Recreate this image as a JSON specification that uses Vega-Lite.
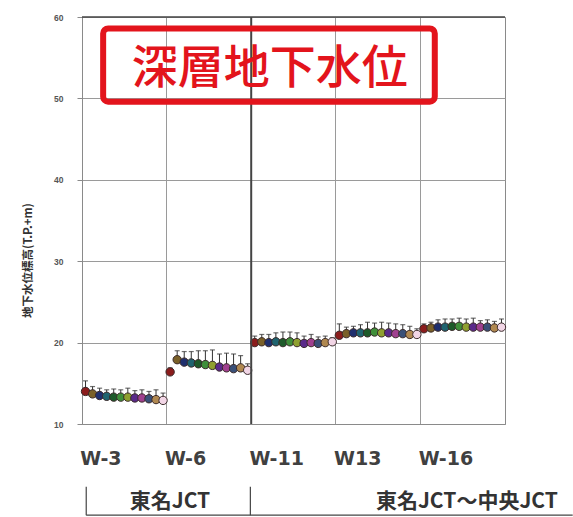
{
  "$schema": "https://vega.github.io/schema/vega-lite/v6.json",
  "width": 423,
  "height": 407,
  "autosize": {"type": "none"},
  "padding": {"left": 82, "top": 17, "right": 68, "bottom": 93},
  "background": "white",
  "config": {"view": {"stroke": "#8a8a8a", "strokeWidth": 1}},
  "datasets": {
    "obs": [
      {"well": "W-3", "m": 1, "v": 14.0, "hi": 15.3},
      {"well": "W-3", "m": 2, "v": 13.7, "hi": 14.6},
      {"well": "W-3", "m": 3, "v": 13.5, "hi": 14.4},
      {"well": "W-3", "m": 4, "v": 13.4, "hi": 14.2},
      {"well": "W-3", "m": 5, "v": 13.3, "hi": 14.3},
      {"well": "W-3", "m": 6, "v": 13.3, "hi": 14.2},
      {"well": "W-3", "m": 7, "v": 13.3, "hi": 14.4},
      {"well": "W-3", "m": 8, "v": 13.2, "hi": 14.1},
      {"well": "W-3", "m": 9, "v": 13.2, "hi": 14.2},
      {"well": "W-3", "m": 10, "v": 13.1, "hi": 14.0},
      {"well": "W-3", "m": 11, "v": 13.0, "hi": 14.2},
      {"well": "W-3", "m": 12, "v": 12.9, "hi": 13.8},
      {"well": "W-6", "m": 1, "v": 16.4, "hi": 16.9},
      {"well": "W-6", "m": 2, "v": 17.9, "hi": 19.0},
      {"well": "W-6", "m": 3, "v": 17.6, "hi": 18.9},
      {"well": "W-6", "m": 4, "v": 17.5, "hi": 18.9},
      {"well": "W-6", "m": 5, "v": 17.4, "hi": 19.0},
      {"well": "W-6", "m": 6, "v": 17.3, "hi": 19.0},
      {"well": "W-6", "m": 7, "v": 17.2, "hi": 19.1},
      {"well": "W-6", "m": 8, "v": 17.0, "hi": 18.6},
      {"well": "W-6", "m": 9, "v": 16.9, "hi": 18.7},
      {"well": "W-6", "m": 10, "v": 16.8, "hi": 18.6},
      {"well": "W-6", "m": 11, "v": 16.9, "hi": 18.4},
      {"well": "W-6", "m": 12, "v": 16.6, "hi": 17.4},
      {"well": "W-11", "m": 1, "v": 20.0, "hi": 20.8},
      {"well": "W-11", "m": 2, "v": 20.1, "hi": 21.0},
      {"well": "W-11", "m": 3, "v": 20.0, "hi": 21.0},
      {"well": "W-11", "m": 4, "v": 20.1, "hi": 21.2},
      {"well": "W-11", "m": 5, "v": 20.0, "hi": 21.3},
      {"well": "W-11", "m": 6, "v": 20.1, "hi": 21.3},
      {"well": "W-11", "m": 7, "v": 20.0, "hi": 21.2},
      {"well": "W-11", "m": 8, "v": 19.9, "hi": 20.8},
      {"well": "W-11", "m": 9, "v": 20.0, "hi": 21.0},
      {"well": "W-11", "m": 10, "v": 19.9, "hi": 20.7},
      {"well": "W-11", "m": 11, "v": 20.0, "hi": 20.8},
      {"well": "W-11", "m": 12, "v": 20.1, "hi": 20.6},
      {"well": "W13", "m": 1, "v": 20.9, "hi": 22.3},
      {"well": "W13", "m": 2, "v": 21.1, "hi": 21.9},
      {"well": "W13", "m": 3, "v": 21.2, "hi": 22.0},
      {"well": "W13", "m": 4, "v": 21.2, "hi": 22.2},
      {"well": "W13", "m": 5, "v": 21.2, "hi": 22.5},
      {"well": "W13", "m": 6, "v": 21.3, "hi": 22.4},
      {"well": "W13", "m": 7, "v": 21.2, "hi": 22.5},
      {"well": "W13", "m": 8, "v": 21.2, "hi": 22.4},
      {"well": "W13", "m": 9, "v": 21.1, "hi": 22.3},
      {"well": "W13", "m": 10, "v": 21.1, "hi": 22.2},
      {"well": "W13", "m": 11, "v": 21.0, "hi": 22.0},
      {"well": "W13", "m": 12, "v": 21.0, "hi": 21.7},
      {"well": "W-16", "m": 1, "v": 21.7, "hi": 22.3},
      {"well": "W-16", "m": 2, "v": 21.8, "hi": 22.5},
      {"well": "W-16", "m": 3, "v": 21.9, "hi": 22.8},
      {"well": "W-16", "m": 4, "v": 21.9, "hi": 22.9},
      {"well": "W-16", "m": 5, "v": 22.0, "hi": 22.9},
      {"well": "W-16", "m": 6, "v": 22.0, "hi": 23.0},
      {"well": "W-16", "m": 7, "v": 21.9, "hi": 22.9},
      {"well": "W-16", "m": 8, "v": 21.9, "hi": 23.0},
      {"well": "W-16", "m": 9, "v": 21.9, "hi": 22.7},
      {"well": "W-16", "m": 10, "v": 21.9, "hi": 22.8},
      {"well": "W-16", "m": 11, "v": 21.8, "hi": 22.6},
      {"well": "W-16", "m": 12, "v": 21.9, "hi": 22.9}
    ],
    "labels": [
      {"label": "東名JCT", "x": 1.04},
      {"label": "東名JCT～中央JCT", "x": 4.55}
    ],
    "brackets": [
      {"x": 0.05},
      {"x": 1.99}
    ]
  },
  "layer": [
    {
      "data": {"name": "obs"},
      "encoding": {
        "x": {
          "field": "well",
          "type": "nominal",
          "sort": ["W-3", "W-6", "W-11", "W13", "W-16"],
          "scale": {"paddingInner": 0, "paddingOuter": 0},
          "axis": {
            "title": null,
            "bandPosition": 0,
            "grid": true,
            "gridColor": "#9a9a9a",
            "gridWidth": 1,
            "ticks": false,
            "domainColor": "#8a8a8a",
            "labelAngle": 0,
            "labelAlign": "left",
            "labelBaseline": "top",
            "labelPadding": 25,
            "labelOffset": -44,
            "labelFont": "DejaVu Sans",
            "labelFontSize": 19,
            "labelFontWeight": "bold",
            "labelColor": "#404040"
          }
        },
        "xOffset": {
          "field": "m",
          "type": "ordinal",
          "scale": {"paddingInner": 0, "paddingOuter": 0}
        },
        "y": {
          "field": "v",
          "type": "quantitative",
          "scale": {"domain": [10, 60], "nice": false, "zero": false},
          "axis": {
            "values": [10, 20, 30, 40, 50, 60],
            "title": "地下水位標高(T.P.+m)",
            "titleFont": "Noto Sans CJK JP",
            "titleFontSize": 11.5,
            "titleFontWeight": "bold",
            "titleColor": "#333333",
            "titleAngle": -90,
            "titleX": -54,
            "titleY": 243,
            "titleAlign": "center",
            "titleBaseline": "middle",
            "grid": true,
            "gridColor": "#9a9a9a",
            "tickSize": 5,
            "tickColor": "#8a8a8a",
            "domainColor": "#8a8a8a",
            "labelPadding": 14,
            "labelFont": "Liberation Sans",
            "labelFontSize": 8.5,
            "labelFontWeight": "bold",
            "labelColor": "#555555"
          }
        }
      },
      "layer": [
        {
          "mark": {"type": "rule", "color": "#333333", "strokeWidth": 1},
          "encoding": {
            "y2": {"field": "hi"}
          }
        },
        {
          "mark": {"type": "tick", "color": "#333333", "size": 5, "thickness": 1.2},
          "encoding": {
            "y": {"field": "hi", "type": "quantitative"}
          }
        },
        {
          "mark": {"type": "point", "shape": "circle", "filled": true, "size": 70, "stroke": "#3a2a2a", "strokeWidth": 1, "opacity": 1},
          "encoding": {
            "color": {
              "field": "m",
              "type": "ordinal",
              "legend": null,
              "scale": {
                "range": ["#8b1c1c", "#7a6028", "#1f2f6e", "#1f6470", "#1e5a2a", "#3f8f3a", "#8fa030", "#5a2a8a", "#a0408f", "#3a5078", "#b08850", "#f2d6e6"]
              }
            }
          }
        }
      ]
    },
    {
      "layer": [
        {
          "data": {"values": [{}]},
          "mark": {"type": "rule", "color": "#444444", "strokeWidth": 2},
          "encoding": {
            "x": {"datum": 2, "type": "quantitative", "scale": {"domain": [0, 5], "nice": false, "zero": false}, "axis": null},
            "y": {"datum": 10, "type": "quantitative", "scale": {"domain": [10, 60], "nice": false, "zero": false}, "axis": null},
            "y2": {"datum": 60}
          }
        },
        {
          "data": {"values": [{}]},
          "mark": {"type": "rule", "color": "#444444", "strokeWidth": 1.5},
          "encoding": {
            "x": {"datum": 0, "type": "quantitative", "axis": null},
            "x2": {"datum": 5},
            "y": {"datum": 60, "type": "quantitative", "axis": null}
          }
        },
        {
          "data": {"values": [{}]},
          "mark": {"type": "rect", "fill": null, "fillOpacity": 0, "stroke": "#e3141c", "strokeWidth": 6, "cornerRadius": 5},
          "encoding": {
            "x": {"datum": 0.25, "type": "quantitative", "axis": null},
            "x2": {"datum": 4.17},
            "y": {"datum": 58.6, "type": "quantitative", "axis": null},
            "y2": {"datum": 49.6}
          }
        },
        {
          "data": {"values": [{"t": "深層地下水位"}]},
          "mark": {"type": "text", "font": "Noto Sans CJK JP", "fontSize": 46, "fontWeight": 500, "color": "#e3141c", "align": "center", "baseline": "middle"},
          "encoding": {
            "x": {"datum": 2.22, "type": "quantitative", "axis": null},
            "y": {"datum": 53.6, "type": "quantitative", "axis": null},
            "text": {"field": "t"}
          }
        },
        {
          "data": {"name": "brackets"},
          "mark": {"type": "rule", "color": "#444444", "strokeWidth": 1.2},
          "encoding": {
            "x": {"field": "x", "type": "quantitative", "axis": null},
            "y": {"datum": 2.3, "type": "quantitative", "axis": null},
            "y2": {"datum": -1.2}
          }
        },
        {
          "data": {"values": [{}]},
          "mark": {"type": "rule", "color": "#444444", "strokeWidth": 1.2},
          "encoding": {
            "x": {"datum": 0.05, "type": "quantitative", "axis": null},
            "x2": {"datum": 5.8},
            "y": {"datum": -1.2, "type": "quantitative", "axis": null}
          }
        },
        {
          "data": {"name": "labels"},
          "mark": {"type": "text", "font": "Noto Sans CJK JP", "fontSize": 21, "fontWeight": "bold", "color": "#333333", "align": "center", "baseline": "middle"},
          "encoding": {
            "x": {"field": "x", "type": "quantitative", "axis": null},
            "y": {"datum": 0.4, "type": "quantitative", "axis": null},
            "text": {"field": "label"}
          }
        }
      ]
    }
  ],
  "resolve": {"scale": {"x": "independent", "y": "independent"}}
}
